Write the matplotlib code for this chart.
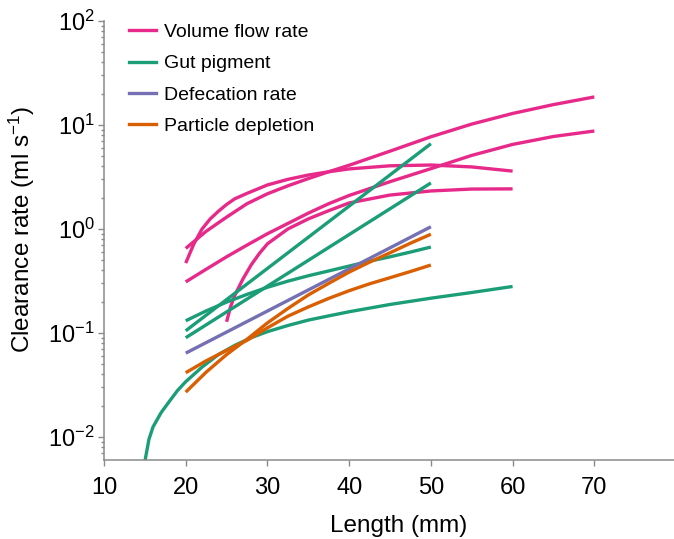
"""Clearance rate vs body length, four estimation methods, log y axis."""
import matplotlib as mpl
mpl.use("Agg")
import matplotlib.pyplot as plt
from matplotlib.lines import Line2D
from matplotlib.ticker import LogLocator, NullFormatter

PINK = "#e7298a"
GREEN = "#1b9e77"
PURPLE = "#7570b3"
ORANGE = "#d95f02"
AXIS_GRAY = "#8a8a8a"
LINE_WIDTH = 2.4
FONT = "Liberation Sans"

# --- Volume flow rate (ml s^-1) ---
vfr_top_len = [20, 22.5, 25, 27.5, 30, 32.5, 35, 37.5, 40, 45, 50, 55, 60, 65, 70]
vfr_top_val = [0.65, 0.95, 1.3, 1.75, 2.18, 2.6, 3.05, 3.55, 4.1, 5.6, 7.7, 10.2, 12.9, 15.7, 18.6]

vfr_peak_len = [20, 21, 22, 23, 24, 25, 26, 27.5, 30, 32.5, 35, 37.5, 40, 45, 50, 55, 60]
vfr_peak_val = [0.47, 0.72, 1.0, 1.25, 1.48, 1.72, 1.95, 2.2, 2.65, 3.0, 3.3, 3.55, 3.78, 4.05, 4.12, 3.95, 3.6]

vfr_low_len = [20, 22.5, 25, 27.5, 30, 32.5, 35, 37.5, 40, 45, 50, 55, 60, 65, 70]
vfr_low_val = [0.31, 0.41, 0.54, 0.70, 0.90, 1.13, 1.42, 1.75, 2.1, 2.85, 3.8, 5.1, 6.5, 7.75, 8.75]

vfr_late_len = [25, 25.5, 26, 27, 28, 29, 30, 32.5, 35, 37.5, 40, 45, 50, 55, 60]
vfr_late_val = [0.128, 0.18, 0.23, 0.33, 0.45, 0.58, 0.72, 1.0, 1.25, 1.5, 1.78, 2.12, 2.32, 2.42, 2.43]

# --- Gut pigment ---
gut_steep_len = [20, 50]
gut_steep_val = [0.105, 6.6]

gut_mid_len = [20, 50]
gut_mid_val = [0.090, 2.77]

gut_flat_len = [20, 22.5, 25, 27.5, 30, 32.5, 35, 37.5, 40, 42.5, 45, 47.5, 50]
gut_flat_val = [0.131, 0.163, 0.198, 0.235, 0.275, 0.315, 0.355, 0.395, 0.44, 0.49, 0.54, 0.60, 0.67]

gut_long_len = [15, 15.5, 16, 17, 18, 19, 20, 22, 24, 26, 28, 30, 32.5, 35, 37.5, 40, 45, 50, 55, 60]
gut_long_val = [0.0058, 0.0095, 0.0125, 0.0172, 0.022, 0.028, 0.034, 0.047, 0.062, 0.076, 0.090,
                0.103, 0.118, 0.133, 0.146, 0.160, 0.188, 0.216, 0.245, 0.28]

# --- Defecation rate ---
def_len = [20, 50]
def_val = [0.064, 1.05]

# --- Particle depletion ---
pd_a_len = [20, 22.5, 25, 27.5, 30, 32.5, 35, 37.5, 40, 42.5, 45, 47.5, 50]
pd_a_val = [0.027, 0.042, 0.062, 0.087, 0.125, 0.172, 0.232, 0.30, 0.385, 0.48, 0.59, 0.73, 0.89]

pd_b_len = [20, 22.5, 25, 27.5, 30, 32.5, 35, 37.5, 40, 42.5, 45, 47.5, 50]
pd_b_val = [0.0415, 0.054, 0.068, 0.085, 0.112, 0.145, 0.178, 0.215, 0.255, 0.297, 0.34, 0.39, 0.45]

LEGEND_LABELS = ["Volume flow rate", "Gut pigment", "Defecation rate", "Particle depletion"]
LEGEND_COLORS = [PINK, GREEN, PURPLE, ORANGE]


def _apply_style():
    mpl.rcParams.update({
        "font.family": [FONT, "DejaVu Sans"],
        "mathtext.fontset": "custom",
        "mathtext.rm": FONT,
        "mathtext.it": FONT + ":italic",
        "mathtext.bf": FONT + ":bold",
        "mathtext.default": "regular",
    })


def main():
    _apply_style()
    fig = plt.figure(figsize=(6.74, 5.39), dpi=100)
    # axis runs off the right edge in the source figure
    ax = fig.add_axes([0.1543, 0.1466, 0.8754, 0.8145])

    series = [
        (vfr_top_len, vfr_top_val, PINK),
        (vfr_peak_len, vfr_peak_val, PINK),
        (vfr_low_len, vfr_low_val, PINK),
        (vfr_late_len, vfr_late_val, PINK),
        (gut_steep_len, gut_steep_val, GREEN),
        (gut_mid_len, gut_mid_val, GREEN),
        (gut_flat_len, gut_flat_val, GREEN),
        (gut_long_len, gut_long_val, GREEN),
        (def_len, def_val, PURPLE),
        (pd_a_len, pd_a_val, ORANGE),
        (pd_b_len, pd_b_val, ORANGE),
    ]
    for xs, ys, col in series:
        ax.plot(xs, ys, color=col, linewidth=LINE_WIDTH, solid_capstyle="butt",
                solid_joinstyle="round")

    ax.set_yscale("log")
    ax.set_xlim(10, 82.2)
    ax.set_ylim(0.00601, 100)
    ax.set_xticks([10, 20, 30, 40, 50, 60, 70])
    ax.yaxis.set_major_locator(LogLocator(base=10, numticks=10))
    ax.yaxis.set_minor_locator(LogLocator(base=10, subs=range(2, 10), numticks=20))
    ax.yaxis.set_minor_formatter(NullFormatter())

    for side in ("top", "right"):
        ax.spines[side].set_visible(False)
    for side in ("left", "bottom"):
        ax.spines[side].set_color(AXIS_GRAY)
        ax.spines[side].set_linewidth(1.1)
    ax.tick_params(which="both", direction="out", color=AXIS_GRAY, width=1.0,
                   labelsize=17, labelcolor="black")
    ax.tick_params(which="major", length=4.5)
    ax.tick_params(which="minor", length=2.5)
    ax.tick_params(axis="x", pad=8)
    ax.tick_params(axis="y", pad=2)

    ax.set_xlabel("Length (mm)", fontsize=17.5, labelpad=11)
    ax.set_ylabel(r"Clearance rate (ml s$^{-1}$)", fontsize=17.5)
    ax.yaxis.set_label_coords(-0.113, 0.525)

    handles = [Line2D([], [], color=c, linewidth=LINE_WIDTH) for c in LEGEND_COLORS]
    ax.legend(handles, LEGEND_LABELS, loc="upper left", bbox_to_anchor=(0.042, 0.994),
              frameon=False, fontsize=14, handlelength=1.4, handletextpad=0.42,
              borderaxespad=0, borderpad=0, labelspacing=0.7)

    fig.savefig("out.png", dpi=100)
    plt.close(fig)


if __name__ == "__main__":
    main()
